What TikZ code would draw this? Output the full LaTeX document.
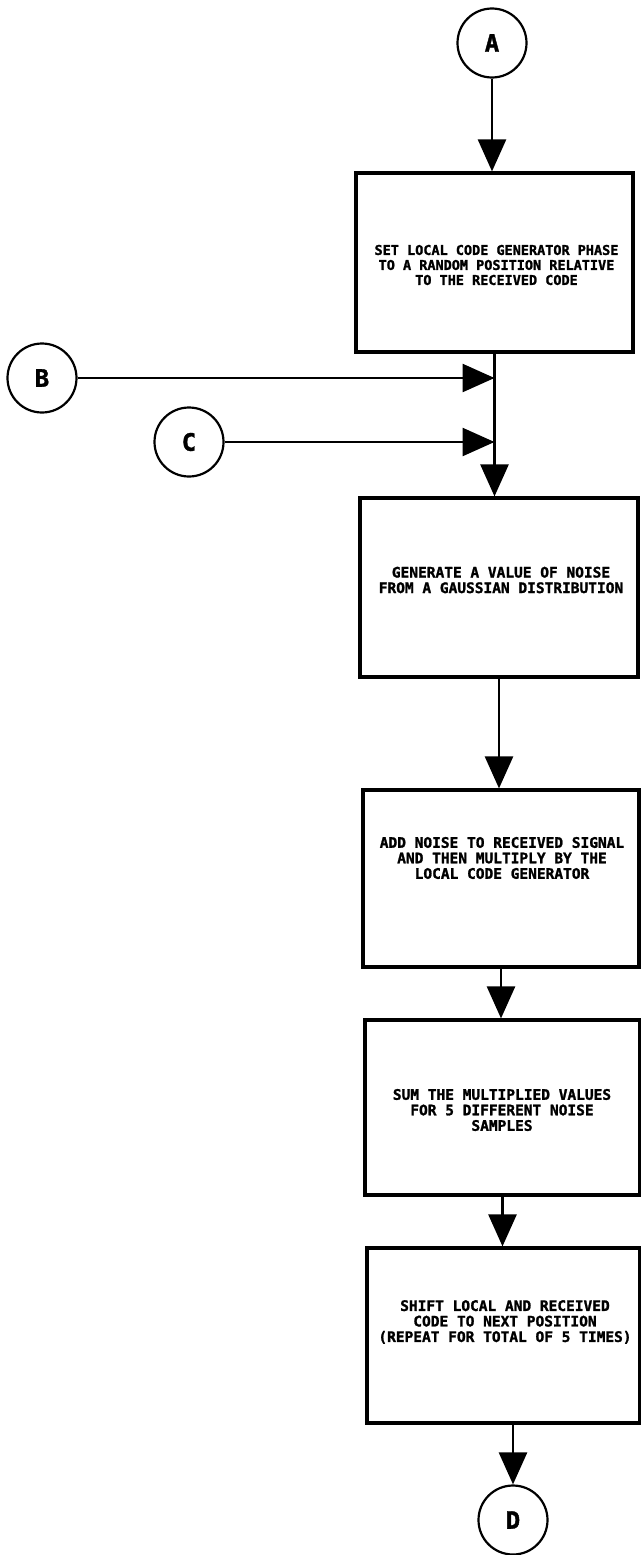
\documentclass[tikz,border=0pt]{standalone}
\usepackage{fontspec}
\setmainfont{DejaVu Sans}
\newfontfamily\lettering{DejaVu Sans Mono}[FakeBold=1.5]
\usetikzlibrary{arrows.meta,calc}
\tikzset{
  conn/.style={circle,draw,line width=2.2pt,minimum size=69pt,inner sep=0pt,
    font=\lettering\bfseries\fontsize{24}{24}\selectfont},
  stepbox/.style={draw,line width=3.2pt,inner sep=0pt},
  lbl/.style={align=center,inner sep=0pt,
    font=\lettering\bfseries\fontsize{14.5}{15.5}\selectfont},
  lblsmall/.style={lbl,font=\lettering\bfseries\fontsize{13.5}{15}\selectfont},
  flow/.style={line width=2.6pt,-{Triangle[length=32pt,width=28pt]}}
}
\begin{document}
\begin{tikzpicture}[x=1pt,y=-1pt]
\useasboundingbox (0,0) rectangle (640,1555);

% connector circles
\node[conn] (A) at (492,43) {A};
\node[conn] (B) at (42,378) {B};
\node[conn] (C) at (189,442) {C};
\node[conn] (D) at (513,1520) {D};

% process boxes
\node[stepbox,minimum width=277pt,minimum height=179pt] (s1) at (494.5,262.5) {};
\node[stepbox,minimum width=278pt,minimum height=179pt] (s2) at (499,587.5) {};
\node[stepbox,minimum width=276pt,minimum height=177pt] (s3) at (501,878.5) {};
\node[stepbox,minimum width=275pt,minimum height=175pt] (s4) at (502.5,1107.5) {};
\node[stepbox,minimum width=273pt,minimum height=175pt] (s5) at (503.5,1335.5) {};

% box texts
\node[lblsmall] (t1) at (496.5,265) {SET LOCAL CODE GENERATOR PHASE\\TO A RANDOM POSITION RELATIVE\\TO THE RECEIVED CODE};
\node[lbl] (t2) at (501,580) {GENERATE A VALUE OF NOISE\\FROM A GAUSSIAN DISTRIBUTION};
\node[lbl] (t3) at (502,858) {ADD NOISE TO RECEIVED SIGNAL\\AND THEN MULTIPLY BY THE\\LOCAL CODE GENERATOR};
\node[lbl] (t4) at (502,1110) {SUM THE MULTIPLIED VALUES\\FOR 5 DIFFERENT NOISE\\SAMPLES};
\node[lbl] (t5) at (505,1322) {SHIFT LOCAL AND RECEIVED\\CODE TO NEXT POSITION\\(REPEAT FOR TOTAL OF 5 TIMES)};

% connectors
\draw[flow] (A.south) -- (A.south |- s1.north);
\draw[flow] (s1.south) -- (s1.south |- s2.north);
\draw[flow] (B.east) -- (B -| s1.south);
\draw[flow] (C.east) -- (C -| s1.south);
\draw[flow] (s2.south) -- (s2.south |- s3.north);
\draw[flow] (s3.south) -- (s3.south |- s4.north);
\draw[flow] (s4.south) -- (s4.south |- s5.north);
\draw[flow] (D |- s5.south) -- (D.north);
\end{tikzpicture}
\end{document}
